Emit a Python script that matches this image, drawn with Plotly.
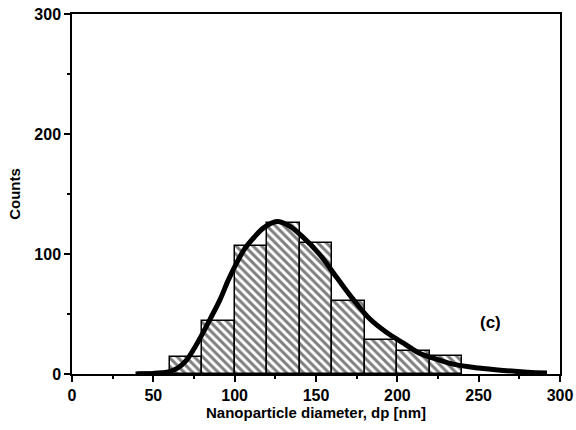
import plotly.graph_objects as go

bin_centers = [50, 70, 90, 110, 130, 150, 170, 190, 210, 230]
counts = [1, 14, 44, 107, 126, 109, 61, 28, 19, 15]

fit_x = [40, 45, 50, 55, 60, 65, 70, 75, 80, 85, 91, 96, 101, 106, 112, 118, 126, 134, 142, 152, 163, 173, 183, 193, 204, 214, 225, 235, 250, 265, 280, 292]
fit_y = [0, 0.2, 0.5, 1, 2, 5, 11, 21, 33, 46, 62, 78, 92, 104, 114, 122, 127, 123, 114, 100, 80, 62, 46, 35, 25.5, 17, 12, 8, 5, 3, 1.5, 0.8]

FONT = "Liberation Sans"

fig = go.Figure()
fig.add_trace(go.Bar(
    x=bin_centers, y=counts, width=20,
    marker=dict(color="white", line=dict(color="black", width=1.5),
                pattern=dict(shape="\\", fgcolor="black", bgcolor="white", size=6, solidity=0.5)),
    showlegend=False,
))
fig.add_trace(go.Scatter(
    x=fit_x, y=fit_y, mode="lines", line=dict(color="black", width=5, shape="spline"),
    showlegend=False,
))
fig.add_annotation(x=257, y=43, text="(c)", showarrow=False,
                   font=dict(family=FONT, size=17, color="black", weight="bold"))

axis_common = dict(showgrid=False, zeroline=False, showline=True, linecolor="black", linewidth=1.5,
                   mirror=True, ticks="outside", ticklen=6, tickwidth=1.5, tickcolor="black",
                   automargin=False,
                   tickfont=dict(family=FONT, size=16, color="black", weight="bold"))
fig.update_xaxes(range=[0, 300], dtick=50, tick0=0,
                 minor=dict(ticks="outside", ticklen=3, dtick=25, tickcolor="black", tickwidth=1.5),
                 title=dict(text="Nanoparticle diameter, dp [nm]", standoff=2,
                            font=dict(family=FONT, size=15, color="black", weight="bold")),
                 **axis_common)
fig.update_yaxes(range=[0, 300], dtick=100, tick0=0,
                 minor=dict(ticks="outside", ticklen=3, dtick=50, tickcolor="black", tickwidth=1.5),
                 title=dict(text="Counts", standoff=10,
                            font=dict(family=FONT, size=15, color="black", weight="bold")),
                 **axis_common)
fig.update_layout(width=576, height=430, margin=dict(l=72, r=16, t=14, b=56),
                  plot_bgcolor="white", paper_bgcolor="white", bargap=0)
fig.write_html("out.html")
